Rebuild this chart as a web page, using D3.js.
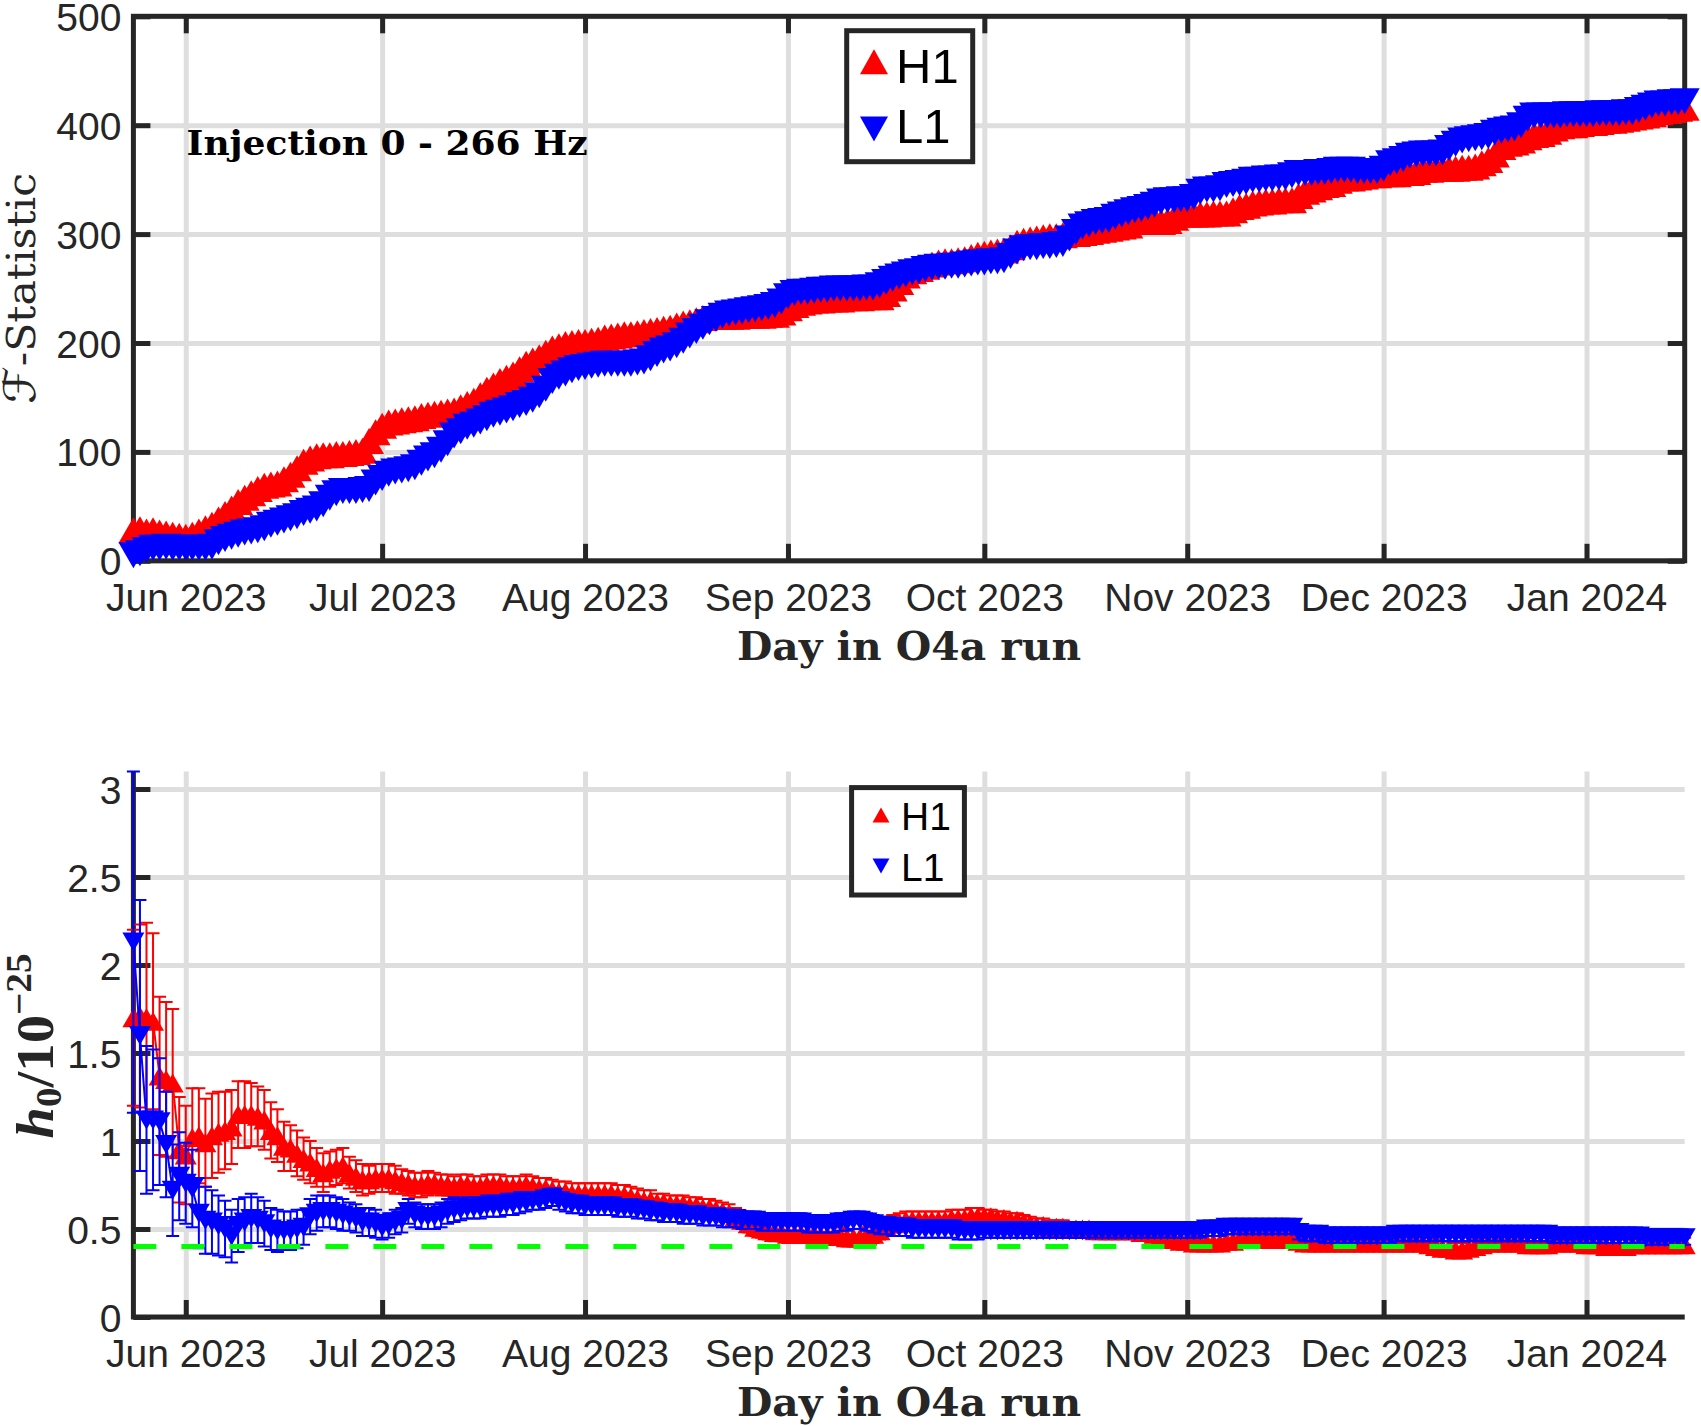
<!DOCTYPE html>
<html><head><meta charset="utf-8">
<script src="https://cdn.jsdelivr.net/npm/d3@7"></script>
<style>body{margin:0;background:#fff}svg{display:block}</style>
</head><body>
<svg id="c" width="1701" height="1426"></svg>
<script>
// ---------------- data ----------------
const startDay = "2023-05-24";
const endDay = "2024-01-16";
const seriesNames = ["H1", "L1"];
const monthTicks = ["2023-06-01","2023-07-01","2023-08-01","2023-09-01","2023-10-01","2023-11-01","2023-12-01","2024-01-01"];
const monthLabels = ["Jun 2023","Jul 2023","Aug 2023","Sep 2023","Oct 2023","Nov 2023","Dec 2023","Jan 2024"];
const fstatTicks = [0,100,200,300,400,500];
const fstatTickLabels = ["0","100","200","300","400","500"];
const h0Ticks = [0,0.5,1,1.5,2,2.5,3];
const h0TickLabels = ["0","0.5","1","1.5","2","2.5","3"];
const h0Injected = 0.4;

// F-statistic, one value per day from startDay
const fstatH1 = [
28,29,27,28,26,25,24,23,22,24,
27,30,33,38,43,48,54,58,62,66,
69,70,71,75,79,85,91,94,96,97,
97,98,98,99,100,101,110,118,124,127,
128,129,130,131,133,134,135,136,137,138,
141,144,147,152,157,161,165,168,171,176,
181,184,187,191,195,197,199,200,201,201,
202,203,205,206,207,208,208,209,210,211,
212,213,214,216,218,219,221,223,224,224,
224,224,224,225,225,225,225,226,226,228,
232,235,237,238,239,239,240,240,240,241,
241,241,242,242,242,245,250,256,262,266,
268,270,272,274,275,275,276,277,279,281,
282,283,284,285,288,292,294,295,296,297,
298,298,299,300,300,301,302,303,304,305,
306,307,308,311,313,313,313,311,312,315,
318,318,318,318,318,319,319,319,322,325,
326,328,329,330,330,331,331,331,335,339,
341,343,345,346,349,351,351,352,353,354,
354,355,355,355,356,356,357,359,359,360,
360,360,360,361,361,362,365,368,373,380,
383,384,386,389,391,392,394,397,399,400,
400,401,402,402,403,404,404,405,406,407,
408,409,410,412,413,414,415,416];
const fstatL1 = [
5,7,10,12,12,13,12,12,12,12,
12,12,13,17,20,22,24,26,27,28,
30,33,35,37,39,41,44,46,48,52,
58,62,64,64,64,65,66,72,76,80,
82,83,84,86,90,94,97,102,108,115,
119,123,125,128,131,134,136,138,140,143,
145,148,152,158,165,169,172,175,177,178,
179,180,181,181,181,181,181,182,183,186,
190,193,195,198,202,207,211,215,219,222,
225,227,228,229,230,231,232,233,235,238,
243,246,247,247,248,249,249,250,250,250,
250,250,251,251,253,256,259,261,263,265,
266,268,269,270,270,271,271,272,273,274,
274,275,275,276,280,284,287,288,288,289,
289,290,291,296,302,307,309,311,312,313,
316,318,320,322,323,325,327,330,331,331,
332,332,334,339,341,341,342,345,346,347,
348,350,350,351,351,352,352,354,356,356,
356,357,357,358,359,359,359,358,358,358,
358,360,365,367,369,372,373,374,374,374,
375,379,383,386,387,388,389,390,393,395,
396,397,400,406,409,409,409,409,409,410,
410,410,410,410,411,411,411,411,412,412,
414,416,418,420,420,421,421,422];

// h0 / 1e-25, one value per day from startDay
const h0H1 = [
1.70,1.71,1.70,1.68,1.37,1.35,1.33,0.95,0.92,1.02,
1.03,0.99,1.03,1.05,1.06,1.08,1.15,1.15,1.15,1.14,
1.12,1.06,1.03,0.97,0.96,0.93,0.90,0.88,0.85,0.82,
0.84,0.85,0.86,0.82,0.80,0.78,0.78,0.79,0.79,0.79,
0.78,0.77,0.76,0.75,0.75,0.76,0.76,0.75,0.75,0.74,
0.75,0.75,0.74,0.74,0.75,0.75,0.75,0.74,0.74,0.74,
0.75,0.74,0.73,0.73,0.72,0.71,0.71,0.70,0.70,0.70,
0.70,0.70,0.70,0.70,0.69,0.69,0.68,0.67,0.66,0.66,
0.65,0.65,0.64,0.64,0.64,0.63,0.63,0.62,0.62,0.61,
0.60,0.59,0.57,0.55,0.53,0.51,0.50,0.49,0.48,0.48,
0.47,0.47,0.47,0.47,0.47,0.46,0.46,0.46,0.46,0.45,
0.45,0.45,0.46,0.47,0.49,0.51,0.53,0.54,0.55,0.55,
0.55,0.55,0.55,0.55,0.55,0.56,0.56,0.56,0.57,0.57,
0.57,0.57,0.56,0.56,0.55,0.55,0.54,0.53,0.52,0.52,
0.51,0.51,0.51,0.50,0.50,0.50,0.50,0.49,0.49,0.49,
0.49,0.49,0.49,0.49,0.48,0.48,0.47,0.46,0.45,0.44,
0.43,0.43,0.42,0.42,0.42,0.42,0.42,0.43,0.43,0.44,
0.44,0.44,0.44,0.44,0.44,0.44,0.44,0.44,0.43,0.42,
0.42,0.42,0.42,0.42,0.42,0.42,0.42,0.42,0.42,0.42,
0.42,0.42,0.42,0.42,0.42,0.42,0.42,0.42,0.41,0.40,
0.39,0.39,0.38,0.38,0.39,0.40,0.41,0.42,0.42,0.42,
0.42,0.42,0.42,0.41,0.41,0.41,0.41,0.42,0.42,0.42,
0.42,0.42,0.41,0.41,0.41,0.40,0.40,0.40,0.40,0.41,
0.41,0.41,0.41,0.41,0.41,0.41,0.41,0.41];
const h0H1Err = [
0.50,0.52,0.54,0.50,0.45,0.44,0.42,0.30,0.28,0.28,
0.27,0.25,0.24,0.23,0.22,0.21,0.19,0.19,0.18,0.17,
0.17,0.16,0.15,0.14,0.13,0.13,0.12,0.12,0.11,0.11,
0.10,0.10,0.10,0.09,0.09,0.09,0.08,0.08,0.08,0.08,
0.08,0.07,0.07,0.07,0.07,0.07,0.06,0.06,0.06,0.06,
0.06,0.06,0.06,0.06,0.06,0.06,0.06,0.06,0.06,0.06,
0.06,0.06,0.06,0.06,0.06,0.06,0.06,0.06,0.06,0.06,
0.06,0.06,0.06,0.06,0.06,0.06,0.06,0.06,0.06,0.06,
0.05,0.05,0.05,0.05,0.05,0.05,0.05,0.05,0.05,0.05,
0.05,0.05,0.05,0.05,0.05,0.05,0.05,0.05,0.05,0.05,
0.05,0.05,0.05,0.05,0.05,0.05,0.05,0.05,0.05,0.05,
0.05,0.05,0.05,0.05,0.05,0.05,0.05,0.05,0.05,0.05,
0.05,0.05,0.05,0.05,0.05,0.05,0.05,0.05,0.05,0.05,
0.04,0.04,0.04,0.04,0.04,0.04,0.04,0.04,0.04,0.04,
0.04,0.04,0.04,0.04,0.04,0.04,0.04,0.04,0.04,0.04,
0.04,0.04,0.04,0.04,0.04,0.04,0.04,0.04,0.04,0.04,
0.04,0.04,0.04,0.04,0.04,0.04,0.04,0.04,0.04,0.04,
0.04,0.04,0.04,0.04,0.04,0.04,0.04,0.04,0.04,0.04,
0.04,0.04,0.04,0.04,0.04,0.04,0.04,0.04,0.04,0.04,
0.04,0.04,0.04,0.04,0.04,0.04,0.04,0.04,0.04,0.04,
0.04,0.04,0.04,0.04,0.04,0.04,0.04,0.04,0.04,0.04,
0.04,0.04,0.04,0.04,0.04,0.04,0.04,0.04,0.04,0.04,
0.04,0.04,0.04,0.04,0.04,0.04,0.04,0.04,0.04,0.04,
0.04,0.04,0.04,0.04,0.04,0.04,0.04,0.04];
const h0L1 = [
2.13,1.60,1.12,1.12,1.11,0.98,0.72,0.80,0.76,0.73,
0.59,0.55,0.54,0.52,0.50,0.46,0.52,0.54,0.56,0.55,
0.53,0.50,0.49,0.49,0.49,0.50,0.51,0.57,0.59,0.60,
0.60,0.59,0.58,0.57,0.56,0.54,0.54,0.53,0.51,0.52,
0.54,0.55,0.60,0.58,0.57,0.57,0.57,0.58,0.60,0.61,
0.61,0.62,0.62,0.62,0.63,0.63,0.63,0.64,0.64,0.65,
0.65,0.66,0.66,0.67,0.68,0.66,0.65,0.64,0.64,0.63,
0.63,0.63,0.63,0.63,0.62,0.62,0.62,0.61,0.61,0.60,
0.60,0.59,0.59,0.59,0.58,0.58,0.58,0.57,0.57,0.57,
0.56,0.56,0.56,0.55,0.55,0.55,0.54,0.54,0.54,0.54,
0.54,0.54,0.54,0.53,0.53,0.53,0.53,0.53,0.54,0.54,
0.55,0.55,0.54,0.53,0.52,0.52,0.51,0.51,0.51,0.50,
0.50,0.50,0.50,0.50,0.50,0.50,0.49,0.49,0.49,0.49,
0.49,0.49,0.49,0.49,0.49,0.49,0.49,0.49,0.49,0.49,
0.49,0.49,0.49,0.49,0.49,0.49,0.49,0.49,0.49,0.49,
0.49,0.49,0.49,0.49,0.49,0.49,0.49,0.49,0.49,0.49,
0.49,0.49,0.49,0.49,0.50,0.50,0.50,0.51,0.51,0.51,
0.51,0.51,0.51,0.51,0.51,0.51,0.51,0.51,0.48,0.47,
0.47,0.47,0.46,0.46,0.46,0.46,0.46,0.46,0.46,0.46,
0.46,0.46,0.46,0.47,0.47,0.47,0.47,0.47,0.47,0.47,
0.47,0.47,0.47,0.47,0.47,0.47,0.47,0.47,0.47,0.47,
0.47,0.47,0.47,0.47,0.47,0.47,0.47,0.46,0.46,0.46,
0.46,0.46,0.46,0.46,0.46,0.46,0.46,0.46,0.46,0.46,
0.46,0.45,0.45,0.45,0.45,0.45,0.45,0.45];
const h0L1Err = [
0.97,0.77,0.42,0.40,0.36,0.30,0.26,0.25,0.23,0.22,
0.20,0.19,0.18,0.17,0.16,0.15,0.15,0.14,0.14,0.13,
0.13,0.12,0.12,0.11,0.11,0.11,0.10,0.10,0.10,0.09,
0.09,0.09,0.09,0.08,0.08,0.08,0.08,0.08,0.07,0.07,
0.07,0.07,0.07,0.07,0.07,0.07,0.07,0.07,0.07,0.07,
0.06,0.06,0.06,0.06,0.06,0.06,0.06,0.06,0.06,0.06,
0.05,0.05,0.05,0.05,0.05,0.05,0.05,0.05,0.05,0.05,
0.05,0.05,0.05,0.05,0.05,0.05,0.05,0.05,0.05,0.05,
0.05,0.05,0.05,0.05,0.05,0.05,0.05,0.05,0.05,0.05,
0.05,0.05,0.05,0.05,0.05,0.05,0.05,0.05,0.05,0.05,
0.05,0.05,0.05,0.05,0.05,0.05,0.05,0.05,0.05,0.05,
0.05,0.05,0.05,0.05,0.05,0.05,0.05,0.05,0.05,0.05,
0.05,0.05,0.05,0.05,0.05,0.05,0.05,0.05,0.05,0.05,
0.04,0.04,0.04,0.04,0.04,0.04,0.04,0.04,0.04,0.04,
0.04,0.04,0.04,0.04,0.04,0.04,0.04,0.04,0.04,0.04,
0.04,0.04,0.04,0.04,0.04,0.04,0.04,0.04,0.04,0.04,
0.04,0.04,0.04,0.04,0.04,0.04,0.04,0.04,0.04,0.04,
0.04,0.04,0.04,0.04,0.04,0.04,0.04,0.04,0.04,0.04,
0.04,0.04,0.04,0.04,0.04,0.04,0.04,0.04,0.04,0.04,
0.04,0.04,0.04,0.04,0.04,0.04,0.04,0.04,0.04,0.04,
0.04,0.04,0.04,0.04,0.04,0.04,0.04,0.04,0.04,0.04,
0.04,0.04,0.04,0.04,0.04,0.04,0.04,0.04,0.04,0.04,
0.04,0.04,0.04,0.04,0.04,0.04,0.04,0.04,0.04,0.04,
0.04,0.04,0.04,0.04,0.04,0.04,0.04,0.04];

// ---------------- drawing ----------------
const svg = d3.select("#c");
const parse = d3.utcParse("%Y-%m-%d");
const monthDates = monthTicks.map(parse);
const t0 = parse(startDay);
const dayDate = i => d3.utcDay.offset(t0, i);

const L = 133.4, R = 1684.7;
const AX = "#262626";
const GRID = "#dedede";
const TICKFONT = "'Liberation Sans', Arial, Helvetica, sans-serif";
const SERIF = "'DejaVu Serif', serif";
const COLORS = {H1: "#ff0000", L1: "#0000ff"};

const x = d3.scaleUtc().domain([parse(startDay), parse(endDay)]).range([L, R]);

const p1 = {top: 16.3, bottom: 560.8};
const p2 = {top: 771.4, bottom: 1317};
const yF = d3.scaleLinear().domain([0, 500]).range([p1.bottom, p1.top]);
const yH = d3.scaleLinear().domain([0, 3.1]).range([p2.bottom, p2.top]);

function tri(w, h, up) {
  return up ? `M0,${-h/2}L${w/2},${h/2}L${-w/2},${h/2}Z` : `M0,${h/2}L${w/2},${-h/2}L${-w/2},${-h/2}Z`;
}

function drawAxes(p, y, yVals, yLabels, box) {
  const g = svg.append("g");
  const gv = g.append("g").attr("transform", `translate(0,${p.bottom})`)
    .call(d3.axisBottom(x).tickValues(monthDates).tickSize(-(p.bottom - p.top)).tickFormat(""));
  const gh = g.append("g").attr("transform", `translate(${L},0)`)
    .call(d3.axisLeft(y).tickValues(yVals).tickSize(-(R - L)).tickFormat(""));
  [gv, gh].forEach(s => {
    s.select(".domain").remove();
    s.selectAll(".tick line").attr("stroke", GRID).attr("stroke-width", 5);
  });
  if (box) {
    g.append("rect").attr("x", L).attr("y", p.top).attr("width", R - L).attr("height", p.bottom - p.top)
      .attr("fill", "none").attr("stroke", AX).attr("stroke-width", 5);
  } else {
    g.append("path").attr("d", `M${L},${p.top}V${p.bottom}H${R}`)
      .attr("fill", "none").attr("stroke", AX).attr("stroke-width", 5);
  }
  const gb = g.append("g").attr("transform", `translate(0,${p.bottom})`)
    .call(d3.axisBottom(x).tickValues(monthDates).tickFormat((d, i) => monthLabels[i]).tickSizeInner(-17).tickSizeOuter(0));
  gb.select(".domain").remove();
  gb.selectAll(".tick line").attr("stroke", AX).attr("stroke-width", 5);
  gb.selectAll(".tick text").attr("y", 50).attr("dy", 0).attr("fill", AX)
    .attr("font-family", TICKFONT).attr("font-size", 39);
  const gl = g.append("g").attr("transform", `translate(${L},0)`)
    .call(d3.axisLeft(y).tickValues(yVals).tickFormat((d, i) => yLabels[i]).tickSizeInner(-17).tickSizeOuter(0));
  gl.select(".domain").remove();
  gl.selectAll(".tick line").attr("stroke", AX).attr("stroke-width", 5);
  gl.selectAll(".tick text").attr("x", -12).attr("dy", "0.36em").attr("fill", AX)
    .attr("font-family", TICKFONT).attr("font-size", 39);
  if (box) {
    const gt = g.append("g").attr("transform", `translate(0,${p.top})`)
      .call(d3.axisTop(x).tickValues(monthDates).tickFormat("").tickSizeInner(-17).tickSizeOuter(0));
    const gr = g.append("g").attr("transform", `translate(${R},0)`)
      .call(d3.axisRight(y).tickValues(yVals).tickFormat("").tickSizeInner(-17).tickSizeOuter(0));
    [gt, gr].forEach(s => {
      s.select(".domain").remove();
      s.selectAll(".tick line").attr("stroke", AX).attr("stroke-width", 5);
    });
  }
}

// ---------- top panel ----------
drawAxes(p1, yF, fstatTicks, fstatTickLabels, true);
const fSeries = [{name: "H1", vals: fstatH1, up: true}, {name: "L1", vals: fstatL1, up: false}];
fSeries.forEach(s => {
  svg.append("g").selectAll("path").data(s.vals).join("path")
    .attr("transform", (v, i) => `translate(${x(dayDate(i))},${yF(v)})`)
    .attr("d", tri(30, 26, s.up)).attr("fill", COLORS[s.name]);
});

svg.append("text").attr("x", 186.6).attr("y", 155).attr("font-family", SERIF).attr("font-weight", "bold")
  .attr("font-size", 34).attr("textLength", 401).attr("lengthAdjust", "spacingAndGlyphs")
  .attr("fill", "#000").text("Injection 0 - 266 Hz");

const lg1 = svg.append("g");
lg1.append("rect").attr("x", 846.7).attr("y", 30.7).attr("width", 126).attr("height", 131)
  .attr("fill", "#fff").attr("stroke", AX).attr("stroke-width", 5);
seriesNames.forEach((n, i) => {
  lg1.append("path").attr("transform", `translate(874,${i === 0 ? 61.7 : 129})`)
    .attr("d", tri(28, 25, i === 0)).attr("fill", COLORS[n]);
  lg1.append("text").attr("x", 896).attr("y", i === 0 ? 83.3 : 143.3).attr("font-family", TICKFONT)
    .attr("font-size", 49).attr("fill", "#000").text(n);
});

svg.append("text").attr("x", 909).attr("y", 659.6).attr("text-anchor", "middle")
  .attr("font-family", SERIF).attr("font-weight", "bold").attr("font-size", 40)
  .attr("textLength", 344).attr("lengthAdjust", "spacingAndGlyphs").attr("fill", AX).text("Day in O4a run");
const yt1 = svg.append("text").attr("transform", "translate(35,288.5) rotate(-90)").attr("text-anchor", "middle")
  .attr("font-family", SERIF).attr("font-size", 39).attr("fill", AX)
  .attr("textLength", 231).attr("lengthAdjust", "spacingAndGlyphs");
yt1.append("tspan").attr("font-style", "italic").attr("font-size", 44).attr("font-family", "'DejaVu Serif','DejaVu Sans',serif").text("ℱ");
yt1.append("tspan").text("-Statistic");

// ---------- bottom panel ----------
drawAxes(p2, yH, h0Ticks, h0TickLabels, false);
const hSeries = [
  {name: "H1", vals: h0H1, err: h0H1Err, up: true},
  {name: "L1", vals: h0L1, err: h0L1Err, up: false}
];
hSeries.forEach(s => {
  const c = COLORS[s.name];
  const g = svg.append("g");
  const line = d3.line().x((v, i) => x(dayDate(i))).y(v => yH(v));
  g.append("path").attr("d", line(s.vals)).attr("fill", "none").attr("stroke", c).attr("stroke-width", 2);
  const eb = g.append("g").attr("stroke", c).attr("stroke-width", 2).attr("fill", "none");
  eb.selectAll("path").data(s.vals).join("path").attr("d", (v, i) => {
    const xx = x(dayDate(i)), lo = yH(v - s.err[i]), hi = yH(v + s.err[i]);
    return `M${xx},${lo}V${hi}M${xx - 6.5},${hi}H${xx + 6.5}M${xx - 6.5},${lo}H${xx + 6.5}`;
  });
  g.append("g").selectAll("path").data(s.vals).join("path")
    .attr("transform", (v, i) => `translate(${x(dayDate(i))},${yH(v)})`)
    .attr("d", tri(22, 19, s.up)).attr("fill", c);
});
svg.append("line").attr("x1", L).attr("x2", R).attr("y1", yH(h0Injected)).attr("y2", yH(h0Injected))
  .attr("stroke", "#00ff00").attr("stroke-width", 5).attr("stroke-dasharray", "23,25");

const lg2 = svg.append("g");
lg2.append("rect").attr("x", 851.6).attr("y", 787.6).attr("width", 112.8).attr("height", 107.4)
  .attr("fill", "#fff").attr("stroke", AX).attr("stroke-width", 5);
seriesNames.forEach((n, i) => {
  lg2.append("path").attr("transform", `translate(881,${i === 0 ? 815 : 866})`)
    .attr("d", tri(17, 15, i === 0)).attr("fill", COLORS[n]);
  lg2.append("text").attr("x", 901).attr("y", i === 0 ? 830 : 881).attr("font-family", TICKFONT)
    .attr("font-size", 39).attr("fill", "#000").text(n);
});

svg.append("text").attr("x", 909).attr("y", 1415.8).attr("text-anchor", "middle")
  .attr("font-family", SERIF).attr("font-weight", "bold").attr("font-size", 40)
  .attr("textLength", 344).attr("lengthAdjust", "spacingAndGlyphs").attr("fill", AX).text("Day in O4a run");
const yt2 = svg.append("text").attr("transform", "translate(53,1046) rotate(-90)").attr("text-anchor", "middle")
  .attr("font-family", "'Liberation Serif', 'Times New Roman', serif").attr("font-weight", "bold")
  .attr("font-size", 52).attr("fill", AX).attr("textLength", 185).attr("lengthAdjust", "spacingAndGlyphs");
yt2.append("tspan").attr("font-style", "italic").text("h");
yt2.append("tspan").attr("font-size", 36).attr("dy", 8).text("0");
yt2.append("tspan").attr("dy", -8).text("/10");
yt2.append("tspan").attr("font-size", 36).attr("dy", -22).text("−25");
</script>
</body></html>
